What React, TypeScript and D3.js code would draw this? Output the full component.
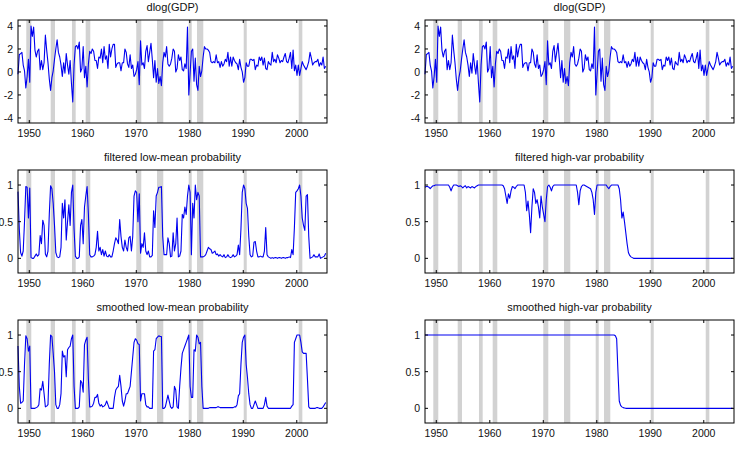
import React from "react";
import * as d3 from "d3";

// quarterly observations, first one is 1947Q3
const startYear = 1947.5;
const xDomain = [1947.5, 2006.75];
// the year labels sit on their own (slightly different) positions in the original
const labelDomain = [1947.89, 2005.65];

const yearTicks = [1950, 1960, 1970, 1980, 1990, 2000];
const gdpTicks = [-4, -2, 0, 2, 4];
const probTicks = [0, 0.5, 1];

// shaded recession periods (start, end)
const recessions = [
  [1949.09, 1950.05], [1953.77, 1954.59], [1957.85, 1958.56], [1960.48, 1961.36],
  [1970.18, 1971.14], [1974.15, 1975.36], [1980.23, 1980.81], [1981.82, 1983.03],
  [1990.78, 1991.36], [2001.33, 2002.02],
];

const gdp = [
  -0.2, 1.5,
  1.6, 1.7, 0.6, 0.1, -1.4, -0.4, 1.1, -0.9, 4.0, 3.1, 3.9, 1.9,
  1.3, 1.8, 2.0, 0.2, 1.0, 0.2, 0.8, 3.2, 1.9, 0.8, -0.6, -1.6,
  -0.5, 0.1, 1.1, 2.0, 2.8, 1.7, 1.3, 0.6, -0.4, 0.8, -0.1, 1.6,
  0.6, -0.2, 1.0, -1.0, -2.6, 0.6, 2.2, 2.3, 2.0, 2.6, 0.0, 0.3,
  2.2, -0.5, 0.5, -1.3, 0.7, 1.8, 1.6, 2.0, 1.8, 1.0, 1.0, 0.3,
  1.3, 1.2, 2.0, 0.8, 2.2, 1.1, 1.4, 0.3, 2.4, 1.3, 2.0, 2.4,
  2.4, 0.4, 0.7, 0.8, 0.8, 0.1, 0.8, 0.8, 2.0, 1.7, 0.7, 0.4,
  1.5, 0.3, 0.6, -0.4, -0.2, 0.2, 0.9, -1.1, 2.7, 0.6, 0.8, 0.3,
  1.8, 2.3, 0.9, 1.7, 2.5, 1.1, -0.5, 1.0, -0.9, 0.3, -1.0, -0.4,
  -1.2, 0.8, 1.7, 1.3, 2.2, 0.7, 0.5, 0.7, 1.2, 2.0, 1.8, 0.0,
  0.3, 1.5, 1.0, 1.3, 0.2, 0.1, 0.7, 0.3, 3.9, -2.0, -0.1, 1.8,
  2.0, -0.8, 1.2, -1.1, -1.6, 0.5, -0.4, 0.1, 1.3, 2.2, 2.0, 2.0,
  1.9, 1.7, 0.9, 0.8, 0.9, 0.8, 1.5, 0.8, 0.9, 0.4, 0.9, 0.5,
  0.7, 1.1, 0.9, 1.7, 0.5, 1.3, 0.5, 1.3, 1.0, 0.8, 0.7, 0.2,
  1.1, 0.4, 0.0, -0.9, -0.5, 0.8, 0.5, 0.5, 1.1, 1.1, 1.0, 1.1,
  0.2, 0.6, 0.5, 1.3, 1.0, 1.3, 0.6, 1.2, 0.3, 0.2, 0.9, 0.7,
  0.6, 1.7, 0.9, 1.1, 0.8, 1.5, 1.2, 0.8, 1.0, 0.9, 1.3, 1.6,
  0.9, 0.8, 1.2, 1.7, 0.3, 1.9, 0.1, 0.6, -0.3, 0.6, -0.3, 0.3,
  0.9, 0.6, 0.4, 0.2, 0.5, 0.9, 1.7, 1.2, 0.6, 0.8, 0.9, 0.9,
  1.1, 0.5, 0.8, 0.6, 1.3, 0.3, 0.5,
];

const filteredLowMean = [
  0.91, 0.4, 0.08, 0.03, 0.1, 0.5, 0.98, 0.97, 0.55, 0.96,
  0.01, 0, 0, 0.03, 0.06, 0.03, 0.05, 0.31, 0.2, 0.52,
  0.45, 0.06, 0.02, 0.1, 0.6, 0.99, 0.95, 0.75, 0.45, 0.08,
  0.02, 0.01, 0.02, 0.15, 0.75, 0.55, 0.8, 0.25, 0.5, 0.73,
  0.45, 0.9, 1.0, 0.4, 0.03, 0, 0, 0.02, 0.45, 0.53,
  0.2, 0.7, 0.85, 0.98, 0.6, 0.05, 0.02, 0.02, 0.03, 0.05,
  0.15, 0.37, 0.1, 0.15, 0.05, 0.12, 0.03, 0.1, 0.03, 0.02,
  0.05, 0.02, 0.02, 0.1, 0.2, 0.28, 0.25, 0.2, 0.53, 0.3,
  0.15, 0.1, 0.25, 0.15, 0.1, 0.28, 0.3, 0.1, 0.3, 0.85,
  0.92, 0.9, 0.5, 0.88, 0.07, 0.2, 0.15, 0.35, 0.1, 0.05,
  0.1, 0.02, 0.02, 0.04, 0.65, 0.42, 0.85, 0.9, 0.97, 0.97,
  0.98, 0.3, 0.05, 0.05, 0.05, 0.28, 0.2, 0.02, 0.03, 0.35,
  0.1, 0.2, 0.55, 0.02, 0.03, 0.1, 0.6, 0.55, 0.7, 0.6,
  0.85, 1.0, 0.9, 0.05, 0.75, 0.55, 1.0, 0.8, 0.9, 0.85,
  0.02, 0.02, 0.02, 0.03, 0.05, 0.1, 0.15, 0.13, 0.12, 0.07,
  0.08, 0.1, 0.05, 0.06, 0.03, 0.05, 0.03, 0.02, 0.05, 0.01,
  0.02, 0.05, 0.02, 0.01, 0.02, 0.05, 0.02, 0.03, 0.05, 0.18,
  0.05, 0.4, 0.9, 1.0, 0.95, 0.75, 0.68, 0.3, 0.05, 0.02,
  0.03, 0.22, 0.23, 0.1, 0.02, 0.02, 0.03, 0.02, 0.02, 0.1,
  0.42, 0.05, 0.02, 0.01, 0, 0.01, 0, 0.01, 0.01, 0,
  0.01, 0.01, 0, 0.01, 0.01, 0, 0.01, 0.01, 0.02, 0.01,
  0.12, 0.05, 0.42, 0.9, 0.92, 0.95, 1.0, 0.85, 0.55, 0.45,
  0.38, 0.85, 0.87, 0.3, 0, 0.01, 0.02, 0.05, 0.02, 0.02,
  0.02, 0.06, 0, 0.01, 0.02, 0.03, 0.07,
];

const filteredHighVar = [
  0.97, 0.98, 0.98, 0.97, 0.95, 0.97, 0.99, 0.99, 1, 1,
  1, 1, 1, 1, 1, 1, 1, 1, 1, 0.97,
  0.92, 0.97, 1, 1, 1, 0.99, 0.98, 0.99, 0.98, 0.96,
  0.98, 0.99, 0.96, 0.98, 0.97, 0.96, 0.98, 0.97, 0.96, 0.98,
  0.99, 1, 1, 1, 1, 1, 1, 1, 1, 1,
  1, 1, 1, 1, 1, 1, 1, 1, 1, 1,
  0.99, 0.95, 0.85, 0.75, 0.88, 0.82, 0.92, 0.98, 0.97, 0.95,
  0.98, 1, 1, 1, 1, 1, 1, 0.9, 0.65, 0.78,
  0.6, 0.35, 0.7, 0.95, 0.9, 0.75, 0.8, 0.7, 0.55, 0.85,
  0.7, 0.6, 0.5, 0.8, 0.98, 1, 0.97, 0.92, 0.98, 1,
  1, 1, 1, 1, 1, 1, 1, 1, 1, 1,
  1, 1, 1, 1, 1, 1, 1, 0.9, 0.73, 0.92,
  0.98, 1, 1, 0.99, 0.98, 0.97, 0.96, 0.95, 0.9, 0.8,
  0.6, 0.9, 1, 1, 1, 1, 1, 1, 1, 1,
  0.97, 0.95, 0.98, 1, 1, 1, 1, 1, 1, 0.95,
  0.8, 0.55, 0.63, 0.5, 0.35, 0.2, 0.08, 0.04, 0.02, 0.01,
  0, 0, 0, 0, 0, 0, 0, 0, 0, 0,
  0, 0, 0, 0, 0, 0, 0, 0, 0, 0,
  0, 0, 0, 0, 0, 0, 0, 0, 0, 0,
  0, 0, 0, 0, 0, 0, 0, 0, 0, 0,
  0, 0, 0, 0, 0, 0, 0, 0, 0, 0,
  0, 0, 0, 0, 0, 0, 0, 0, 0, 0,
  0, 0, 0, 0, 0, 0, 0, 0, 0, 0,
  0, 0, 0, 0, 0, 0, 0,
];

const smoothedLowMean = [
  0.85, 0.3, 0.07, 0.08, 0.1, 0.6, 0.99, 0.95, 0.78, 0.85,
  0, 0, 0, 0, 0.01, 0.02, 0.05, 0.27, 0.25, 0.37,
  0.2, 0.02, 0.03, 0.05, 0.6, 1.0, 0.98, 0.75, 0.5, 0.05,
  0, 0, 0.05, 0.2, 0.78, 0.7, 0.72, 0.43, 0.8, 0.83,
  0.85, 0.95, 1.0, 0.3, 0, 0, 0, 0.02, 0.38, 0.35,
  0.22, 0.87, 0.93, 0.97, 0.4, 0.02, 0.02, 0.03, 0.07, 0.15,
  0.15, 0.19, 0.07, 0.03, 0.05, 0.02, 0.03, 0.05, 0.1, 0.05,
  0, 0, 0, 0, 0.15, 0.25, 0.28, 0.3, 0.45, 0.3,
  0.1, 0.03, 0.1, 0.2, 0.2, 0.25, 0.3, 0.5, 0.7, 0.9,
  0.95, 0.93, 0.88, 0.87, 0.1, 0.2, 0.2, 0.2, 0.05, 0.02,
  0.02, 0, 0, 0, 0.78, 0.8, 0.95, 0.97, 0.99, 0.98,
  0.98, 0, 0, 0.02, 0.1, 0.18, 0.1, 0.02, 0, 0.02,
  0.3, 0.25, 0.02, 0, 0.3, 0.55, 0.75, 0.8, 0.85, 0.9,
  0.95, 1.0, 0.3, 0.15, 0.15, 0.8, 0.78, 1.0, 0.97, 0.88,
  0.9, 0.3, 0, 0, 0, 0, 0, 0.01, 0.01, 0.01,
  0.01, 0.01, 0.01, 0.02, 0.02, 0.01, 0.01, 0.01, 0.01, 0.01,
  0.01, 0.01, 0.01, 0.01, 0.01, 0.01, 0.02, 0.02, 0.05, 0.17,
  0.2, 0.6, 0.9, 0.97, 1.0, 0.6, 0.42, 0.2, 0.05, 0,
  0, 0.05, 0.1, 0.05, 0, 0, 0, 0, 0, 0.05,
  0.15, 0.03, 0, 0, 0, 0, 0, 0, 0, 0,
  0, 0, 0, 0, 0, 0, 0, 0, 0, 0,
  0.03, 0.05, 0.9, 0.95, 1.0, 1.0, 1.0, 0.9, 0.77, 0.75,
  0.75, 0.75, 0.4, 0.02, 0, 0, 0, 0, 0, 0.01,
  0.01, 0, 0, 0, 0.02, 0.05, 0.08,
];

const smoothedHighVar = [
  1, 1, 1, 1, 1, 1, 1, 1, 1, 1,
  1, 1, 1, 1, 1, 1, 1, 1, 1, 1,
  1, 1, 1, 1, 1, 1, 1, 1, 1, 1,
  1, 1, 1, 1, 1, 1, 1, 1, 1, 1,
  1, 1, 1, 1, 1, 1, 1, 1, 1, 1,
  1, 1, 1, 1, 1, 1, 1, 1, 1, 1,
  1, 1, 1, 1, 1, 1, 1, 1, 1, 1,
  1, 1, 1, 1, 1, 1, 1, 1, 1, 1,
  1, 1, 1, 1, 1, 1, 1, 1, 1, 1,
  1, 1, 1, 1, 1, 1, 1, 1, 1, 1,
  1, 1, 1, 1, 1, 1, 1, 1, 1, 1,
  1, 1, 1, 1, 1, 1, 1, 1, 1, 1,
  1, 1, 1, 1, 1, 1, 1, 1, 1, 1,
  1, 1, 1, 1, 1, 1, 1, 1, 1, 1,
  1, 1, 1, 1, 1, 1, 0.99, 0.95, 0.5, 0.1,
  0.04, 0.02, 0.01, 0.005, 0, 0, 0, 0, 0, 0,
  0, 0, 0, 0, 0, 0, 0, 0, 0, 0,
  0, 0, 0, 0, 0, 0, 0, 0, 0, 0,
  0, 0, 0, 0, 0, 0, 0, 0, 0, 0,
  0, 0, 0, 0, 0, 0, 0, 0, 0, 0,
  0, 0, 0, 0, 0, 0, 0, 0, 0, 0,
  0, 0, 0, 0, 0, 0, 0, 0, 0, 0,
  0, 0, 0, 0, 0, 0, 0, 0, 0, 0,
  0, 0, 0, 0, 0, 0, 0,
];

const W = 309;
const H = 103;
const colX = [18, 425];
const rowY = [20, 170, 320];
const font = "'Liberation Sans', Arial, Helvetica, sans-serif";

type PanelProps = {
  x0: number;
  y0: number;
  title: string;
  values: number[];
  yDomain: number[];
  yTicks: number[];
};

function Panel({ x0, y0, title, values, yDomain, yTicks }: PanelProps) {
  const xs = d3.scaleLinear().domain(xDomain).range([x0, x0 + W]);
  const xl = d3.scaleLinear().domain(labelDomain).range([x0, x0 + W]);
  const ys = d3.scaleLinear().domain(yDomain).range([y0 + H, y0]);
  const line = d3
    .line<number>()
    .x((_, i) => xs(startYear + i / 4))
    .y((v) => ys(v));
  const tl = 3; // tick length

  return (
    <g>
      <text x={x0 + W / 2} y={y0 - 9} textAnchor="middle" fontSize={11} fill="#111">
        {title}
      </text>
      {recessions.map(([a, b], i) => (
        <rect key={i} x={xs(a)} y={y0} width={xs(b) - xs(a)} height={H} fill="#d2d2d2" />
      ))}
      <path d={line(values) || ""} fill="none" stroke="#0000f0" strokeWidth={1.1} strokeLinejoin="round" />
      <rect x={x0} y={y0} width={W} height={H} fill="none" stroke="#000" strokeWidth={1} />
      {yearTicks.map((t) => (
        <g key={t}>
          <line x1={xl(t)} x2={xl(t)} y1={y0 + H} y2={y0 + H - tl} stroke="#000" />
          <line x1={xl(t)} x2={xl(t)} y1={y0} y2={y0 + tl} stroke="#000" />
          <text x={xl(t)} y={y0 + H + 14} textAnchor="middle" fontSize={10.5} fill="#111">
            {t}
          </text>
        </g>
      ))}
      {yTicks.map((t) => (
        <g key={t}>
          <line x1={x0} x2={x0 + tl} y1={ys(t)} y2={ys(t)} stroke="#000" />
          <line x1={x0 + W} x2={x0 + W - tl} y1={ys(t)} y2={ys(t)} stroke="#000" />
          <text x={x0 - 5} y={ys(t) + 4} textAnchor="end" fontSize={10.5} fill="#111">
            {t}
          </text>
        </g>
      ))}
    </g>
  );
}

export default function App() {
  const gdpDomain = [-4.44, 4.52];
  const probDomain = [-0.2, 1.205];
  return (
    <svg
      width={740}
      height={454}
      style={{ position: "absolute", left: 0, top: 0, background: "#fff", fontFamily: font }}
    >
      <Panel x0={colX[0]} y0={rowY[0]} title="dlog(GDP)" values={gdp} yDomain={gdpDomain} yTicks={gdpTicks} />
      <Panel x0={colX[1]} y0={rowY[0]} title="dlog(GDP)" values={gdp} yDomain={gdpDomain} yTicks={gdpTicks} />
      <Panel x0={colX[0]} y0={rowY[1]} title="filtered low-mean probability" values={filteredLowMean} yDomain={probDomain} yTicks={probTicks} />
      <Panel x0={colX[1]} y0={rowY[1]} title="filtered high-var probability" values={filteredHighVar} yDomain={probDomain} yTicks={probTicks} />
      <Panel x0={colX[0]} y0={rowY[2]} title="smoothed low-mean probability" values={smoothedLowMean} yDomain={probDomain} yTicks={probTicks} />
      <Panel x0={colX[1]} y0={rowY[2]} title="smoothed high-var probability" values={smoothedHighVar} yDomain={probDomain} yTicks={probTicks} />
    </svg>
  );
}
